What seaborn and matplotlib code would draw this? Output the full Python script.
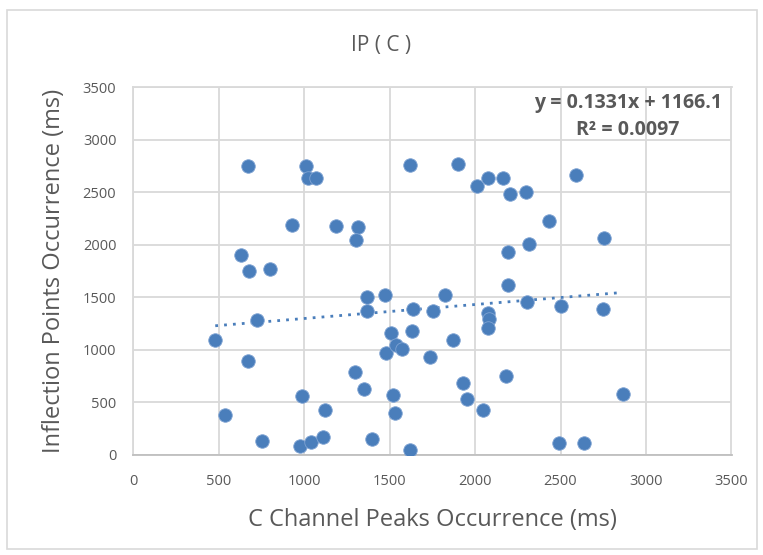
import matplotlib
matplotlib.use("Agg")
import matplotlib.pyplot as plt
import seaborn as sns
import numpy as np
import pandas as pd
from matplotlib.patches import Rectangle

# ── data ────────────────────────────────────────────────────
peaks_ms = [
    671, 1012, 1025, 1068, 928, 1187, 1316, 1304, 630, 678, 803,
    1622, 1901, 2010, 2074, 2166, 2206, 2300, 2589, 2435, 2757, 2314, 2195,
    1368, 1472, 1368, 723, 481, 1509, 1477, 671, 1300, 1353, 1520, 988,
    1121, 540, 1530, 756, 977, 1041, 1113, 1396,
    1825, 2195, 1637, 1752, 2074, 2084, 2074, 2302, 2503, 2750, 1632,
    1538, 1575, 1871, 1735, 2181, 1932, 1955, 2045, 2864, 1618, 2489, 2637,
]
inflection_ms = [
    2747, 2747, 2638, 2638, 2190, 2181, 2166, 2045, 1902, 1747, 1775,
    2756, 2768, 2559, 2638, 2638, 2483, 2505, 2667, 2232, 2067, 2007, 1930,
    1502, 1521, 1366, 1286, 1092, 1162, 968, 899, 791, 626, 575, 566,
    432, 381, 400, 137, 89, 121, 169, 156,
    1521, 1616, 1385, 1366, 1347, 1295, 1207, 1461, 1423, 1385, 1181,
    1045, 1013, 1092, 937, 750, 683, 537, 432, 585, 48, 118, 118,
]
slope, intercept, r2 = 0.1331, 1166.1, 0.0097
ticks = [0, 500, 1000, 1500, 2000, 2500, 3000, 3500]

df = pd.DataFrame({"peaks": peaks_ms, "ip": inflection_ms})

blue = "#4a7ebb"
grey_text = "#595959"
grid_c = "#d9d9d9"

sns.set_theme(style="white")
plt.rcParams["font.family"] = ["Open Sans", "DejaVu Sans"]

fig = plt.figure(figsize=(7.63, 5.55), dpi=100)
ax = fig.add_axes([133 / 763, 1 - 455 / 555, 598.5 / 763, 367.7 / 555])

# outer chart border
fig.patches.append(Rectangle((7 / 763, 1 - 549 / 555), 750 / 763, 539 / 555,
                             transform=fig.transFigure, fill=False,
                             edgecolor=grid_c, linewidth=1.2))

ax.grid(True, color=grid_c, linewidth=1.3)
ax.set_axisbelow(True)

sns.scatterplot(data=df, x="peaks", y="ip", ax=ax, s=95, color=blue,
                edgecolor="#7fa3d3", linewidth=0.6, zorder=3)

# linear trendline (dotted), over data x range
xs = np.array([df["peaks"].min(), df["peaks"].max()])
ax.plot(xs, slope * xs + intercept, linestyle=(0, (1, 2.2)), color=blue,
        linewidth=2.0, zorder=2)

ax.set_xlim(0, 3500)
ax.set_ylim(0, 3500)
ax.set_xticks(ticks)
ax.set_yticks(ticks)
ax.tick_params(length=0, labelsize=10.5, labelcolor=grey_text)
ax.tick_params(axis="x", pad=14)
ax.tick_params(axis="y", pad=12)
for s in ax.spines.values():
    s.set_color(grid_c)
    s.set_linewidth(1.3)
ax.spines["bottom"].set_color("#bfbfbf")

ax.set_xlabel("C Channel Peaks Occurrence (ms)", fontsize=17,
              color=grey_text, labelpad=13)
ax.set_ylabel("Inflection Points Occurrence (ms)", fontsize=17,
              color=grey_text, labelpad=12)

fig.text(381 / 763, 1 - 45 / 555, "IP ( C )", fontsize=15, color=grey_text,
         ha="center", va="center")

ax.text(0.984, 0.985, f"y = {slope}x + {intercept}\nR² = {r2}",
        transform=ax.transAxes, ha="right", va="top", fontsize=14,
        fontweight="bold", color=grey_text, multialignment="center",
        linespacing=1.45)

fig.savefig("out.png", dpi=100)
